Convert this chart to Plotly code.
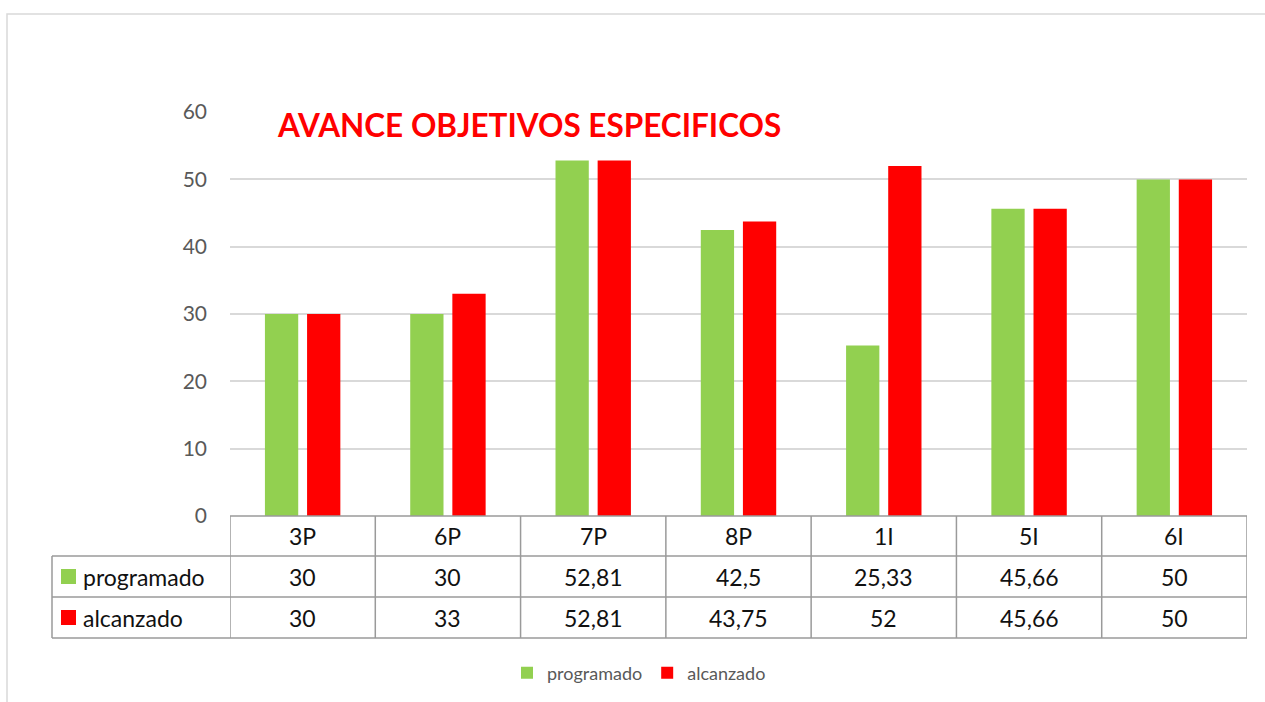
import plotly.graph_objects as go

categories = ["3P", "6P", "7P", "8P", "1I", "5I", "6I"]
programado = [30, 30, 52.81, 42.5, 25.33, 45.66, 50]
alcanzado = [30, 33, 52.81, 43.75, 52, 45.66, 50]
series_names = ["programado", "alcanzado"]
title_text = "AVANCE OBJETIVOS ESPECIFICOS"

W, H = 1265, 702
GREEN = "#92d050"
RED = "#ff0000"
FONT = "Lato, 'Open Sans', sans-serif"


def px(x):
    return x / W


def py(y):
    return 1 - y / H


def fmt(v):
    return f"{v:g}".replace(".", ",")


fig = go.Figure()
fig.add_trace(go.Bar(x=categories, y=programado, name=series_names[0],
                     marker=dict(color=GREEN, line=dict(width=0))))
fig.add_trace(go.Bar(x=categories, y=alcanzado, name=series_names[1],
                     marker=dict(color=RED, line=dict(width=0))))

shapes = []
annotations = []
TABLE_LINE = dict(color="#9a9a9a", width=1.5)

# outer chart border
shapes.append(dict(type="rect", xref="paper", yref="paper",
                   x0=px(7), x1=px(1266), y0=py(704), y1=py(14),
                   line=dict(color="#d9d9d9", width=1.5)))

# table geometry (pixels)
row_y = [516, 556, 597, 638]
left_x, plot_l, plot_r = 52, 230, 1247

shapes.append(dict(type="line", xref="paper", yref="paper",
                   x0=px(plot_l), x1=px(plot_r), y0=py(row_y[0]), y1=py(row_y[0]), line=TABLE_LINE))
for yy in row_y[1:]:
    shapes.append(dict(type="line", xref="paper", yref="paper",
                       x0=px(left_x), x1=px(plot_r), y0=py(yy), y1=py(yy), line=TABLE_LINE))
shapes.append(dict(type="line", xref="paper", yref="paper",
                   x0=px(left_x), x1=px(left_x), y0=py(row_y[1]), y1=py(row_y[3]), line=TABLE_LINE))
for i in range(len(categories) + 1):
    shapes.append(dict(type="line", xref="x", yref="paper",
                       x0=i - 0.5, x1=i - 0.5, y0=py(row_y[0]), y1=py(row_y[3]), line=TABLE_LINE))

TXT = dict(family=FONT, size=23, color="#111111")
for i, c in enumerate(categories):
    annotations.append(dict(x=c, y=py((row_y[0] + row_y[1]) / 2), xref="x", yref="paper",
                            text=c, showarrow=False, font=TXT, xanchor="center", yanchor="middle"))
    annotations.append(dict(x=c, y=py((row_y[1] + row_y[2]) / 2), xref="x", yref="paper",
                            text=fmt(programado[i]), showarrow=False, font=TXT,
                            xanchor="center", yanchor="middle"))
    annotations.append(dict(x=c, y=py((row_y[2] + row_y[3]) / 2), xref="x", yref="paper",
                            text=fmt(alcanzado[i]), showarrow=False, font=TXT,
                            xanchor="center", yanchor="middle"))

for k, (name, col) in enumerate(zip(series_names, [GREEN, RED])):
    yc = (row_y[k + 1] + row_y[k + 2]) / 2
    shapes.append(dict(type="rect", xref="paper", yref="paper",
                       x0=px(61), x1=px(76), y0=py(yc + 7.5), y1=py(yc - 7.5),
                       fillcolor=col, line=dict(width=0)))
    annotations.append(dict(x=px(81), y=py(yc), xref="paper", yref="paper",
                            text=name, showarrow=False, font=TXT,
                            xanchor="left", yanchor="middle"))

annotations.append(dict(x=px(275), y=py(125), xref="paper", yref="paper",
                        text=f"<b>{title_text}</b>", showarrow=False,
                        font=dict(family=FONT, size=31.5, color=RED),
                        xanchor="left", yanchor="middle"))

fig.update_layout(
    width=W, height=H,
    margin=dict(l=0, r=0, t=0, b=0, autoexpand=False),
    paper_bgcolor="white", plot_bgcolor="white",
    barmode="group", bargap=0.42, bargroupgap=0.21,
    showlegend=True,
    legend=dict(orientation="h", x=px(639), xanchor="center", y=py(673), yanchor="middle",
                font=dict(family=FONT, size=18, color="#595959"),
                itemwidth=30, traceorder="normal"),
    xaxis=dict(domain=[px(plot_l), px(plot_r)], range=[-0.5, len(categories) - 0.5],
               showticklabels=False, showgrid=False, zeroline=False, showline=False,
               ticks="", automargin=False),
    yaxis=dict(domain=[py(516), py(112)], range=[0, 60.02], tickvals=[0, 10, 20, 30, 40, 50, 60],
               showgrid=True, gridcolor="#d9d9d9", gridwidth=1.5,
               zeroline=False, showline=False, ticks="", automargin=False,
               tickfont=dict(family=FONT, size=21, color="#595959"),
               ticklabelstandoff=22),
    shapes=shapes,
    annotations=annotations,
)

fig.write_html(
    "out.html",
    config=dict(displayModeBar=False),
    post_script=(
        "document.documentElement.style.margin='0';"
        "document.body.style.margin='0';document.body.style.overflow='hidden';"
        "document.documentElement.style.overflow='hidden';"
        "var g=document.getElementsByClassName('plotly-graph-div')[0];"
        "g.style.position='fixed';g.style.top='0px';g.style.left='0px';"
    ),
)
